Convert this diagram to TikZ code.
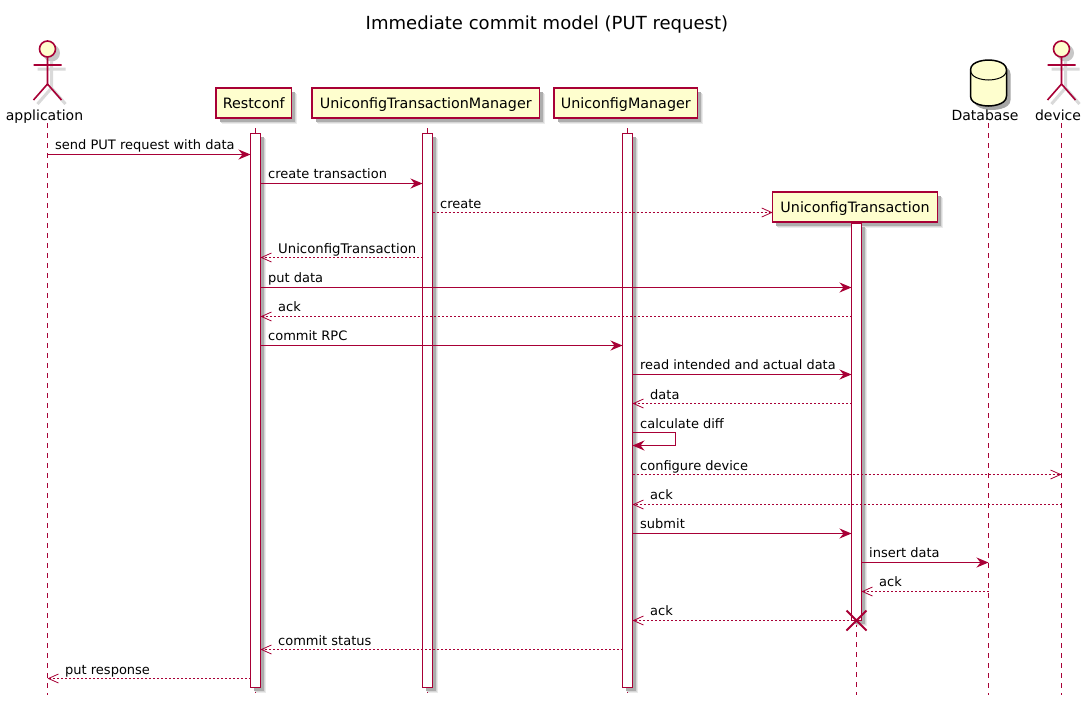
\documentclass[tikz,border=0pt]{standalone}
\usepackage{fontspec}
\setmainfont{DejaVu Sans}
\usetikzlibrary{arrows.meta,shadows,calc}
\definecolor{puline}{HTML}{A80036}
\definecolor{pufill}{HTML}{FEFECE}
\tikzset{
  softshadow/.style={general shadow={fill=black!8,shadow xshift=5.5pt,shadow yshift=-5.5pt},
    general shadow={fill=black!16,shadow xshift=4.5pt,shadow yshift=-4.5pt},
    general shadow={fill=black!32,shadow xshift=3.5pt,shadow yshift=-3.5pt}},
  partbox/.style={draw=puline,fill=pufill,line width=1.5pt,rectangle,inner sep=0pt,outer sep=0pt,softshadow,
    font=\fontsize{14.3}{16}\selectfont,text=black,anchor=north west,text height=13.5pt,text depth=2pt},
  actbar/.style={draw=puline,fill=white,line width=1pt,rectangle,inner sep=0pt,outer sep=0pt,minimum width=10pt,softshadow,anchor=north west},
  lifeline/.style={draw=puline,line width=1pt,dash pattern=on 5pt off 5pt},
  syncmsg/.style={draw=puline,line width=1pt,-{Stealth[length=12pt,width=10pt,inset=4pt,fill=puline]}},
  replymsg/.style={draw=puline,line width=1pt,dash pattern=on 2pt off 2pt,-{Straight Barb[length=10pt,width=9pt,line width=0.8pt]}},
  msglabel/.style={font=\fontsize{13}{15}\selectfont,text=black,anchor=base west,inner sep=0pt},
  actorlabel/.style={font=\fontsize{14}{16}\selectfont,text=black,anchor=base,inner sep=0pt},
  actorstroke/.style={draw=puline,line width=1.6pt,fill=none},
  actorshade/.style={draw=black!15,line width=3pt,fill=none}
}
\newcommand{\stickman}[2]{%
  \begin{scope}[shift={(#1+4,#2+4)}]
    \fill[black!22] (0,49) circle (8.5);
    \draw[actorshade] (0,57)--(0,84) (-14,65)--(14,65) (-14,100)--(0,84)--(14,100);
  \end{scope}
  \begin{scope}[shift={(#1,#2)}]
    \draw[actorstroke,fill=pufill] (0,49) circle (8);
    \draw[actorstroke] (0,57)--(0,84) (-14,65)--(14,65) (-14,100)--(0,84)--(14,100);
  \end{scope}}
\begin{document}
\begin{tikzpicture}[x=1pt,y=-1pt]
\useasboundingbox[fill=white] (0,0) rectangle (1088,702);
% title
\node[font=\fontsize{18.05}{20}\selectfont,anchor=base,inner sep=0pt] (title) at (547,29) {Immediate commit model (PUT request)};
% lifeline anchors
\coordinate (appT) at (47.5,123);   \coordinate (appB) at (47.5,695);
\coordinate (resT) at (255.5,118);  \coordinate (resB) at (255.5,695);
\coordinate (tmT)  at (427.5,118);  \coordinate (tmB)  at (427.5,695);
\coordinate (umT)  at (627.5,118);  \coordinate (umB)  at (627.5,695);
\coordinate (utT)  at (856.5,222);  \coordinate (utB)  at (856.5,695);
\coordinate (dbT)  at (988.5,123);  \coordinate (dbB)  at (988.5,695);
\coordinate (devT) at (1061.5,123); \coordinate (devB) at (1061.5,695);
\foreach \p in {app,res,tm,um,ut,db,dev}{\draw[lifeline] (\p T) -- (\p B);}
% participants
\stickman{47.5}{0}
\node[actorlabel] (application) at (44.5,120) {application};
\node[partbox,minimum width=75.5pt,minimum height=30pt] (restconf) at (216,88) {Restconf};
\node[partbox,minimum width=227.5pt,minimum height=30pt] (manager) at (312,88) {UniconfigTransactionManager};
\node[partbox,minimum width=143.5pt,minimum height=30pt] (uniconfig) at (554,88) {UniconfigManager};
% database
\fill[black!35] (974,74) .. controls (974,64) and (992,64) .. (992,64) .. controls (992,64) and (1010.5,64) .. (1010.5,74) -- (1010.5,100) .. controls (1010.5,110) and (992,110) .. (992,110) .. controls (992,110) and (974,110) .. (974,100) -- cycle;
\draw[black,line width=1.5pt,fill=pufill] (970.5,70) .. controls (970.5,60) and (988.5,60) .. (988.5,60) .. controls (988.5,60) and (1006.5,60) .. (1006.5,70) -- (1006.5,96) .. controls (1006.5,106) and (988.5,106) .. (988.5,106) .. controls (988.5,106) and (970.5,106) .. (970.5,96) -- cycle;
\draw[black,line width=1pt] (970.5,70) .. controls (970.5,80) and (988.5,80) .. (988.5,80) .. controls (988.5,80) and (1006.5,80) .. (1006.5,70);
\node[actorlabel] (database) at (985,120) {Database};
\stickman{1061.5}{0}
\node[actorlabel] (device) at (1058,120) {device};
% activation bars
\node[actbar,minimum height=554pt] (barR) at (250.5,133.5) {};
\node[actbar,minimum height=554pt] (barM) at (422.5,133.5) {};
\node[actbar,minimum height=554pt] (barU) at (622.5,133.5) {};
\node[partbox,minimum width=164.6pt,minimum height=30pt] (utx) at (772.7,192) {UniconfigTransaction};
\node[actbar,minimum height=397pt] (barT) at (851.5,223.5) {};
% messages
\draw[syncmsg] (appT |- 0,154.5) -- (barR.west |- 0,154.5);
\node[msglabel] (m1) at (55,149) {send PUT request with data};
\draw[syncmsg] (barR.east |- 0,183.5) -- (barM.west |- 0,183.5);
\node[msglabel] (m2) at (268,178) {create transaction};
\draw[replymsg] (barM.east |- 0,212.5) -- (utx.west |- 0,212.5);
\node[msglabel] (m3) at (440,208) {create};
\draw[replymsg] (barM.west |- 0,257.5) -- (barR.east |- 0,257.5);
\node[msglabel,font=\fontsize{13.25}{15}\selectfont] (m4) at (278,253) {UniconfigTransaction};
\draw[syncmsg] (barR.east |- 0,287.5) -- (barT.west |- 0,287.5);
\node[msglabel] (m5) at (268,282) {put data};
\draw[replymsg] (barT.west |- 0,316.5) -- (barR.east |- 0,316.5);
\node[msglabel] (m6) at (278,311) {ack};
\draw[syncmsg] (barR.east |- 0,345.5) -- (barU.west |- 0,345.5);
\node[msglabel] (m7) at (268,340) {commit RPC};
\draw[syncmsg] (barU.east |- 0,374.5) -- (barT.west |- 0,374.5);
\node[msglabel,font=\fontsize{12.88}{15}\selectfont] (m8) at (640,369) {read intended and actual data};
\draw[replymsg] (barT.west |- 0,403.5) -- (barU.east |- 0,403.5);
\node[msglabel] (m9) at (650,399) {data};
\coordinate (selfA) at (675,432.5);
\draw[syncmsg] (barU.east |- selfA) -- (selfA) -- (675,445.5) -- (barU.east |- 0,445.5);
\node[msglabel] (m10) at (640,428) {calculate diff};
\draw[replymsg] (barU.east |- 0,474.5) -- (devT |- 0,474.5);
\node[msglabel] (m11) at (640,470) {configure device};
\draw[replymsg] (devT |- 0,504.5) -- (barU.east |- 0,504.5);
\node[msglabel] (m12) at (650,499) {ack};
\draw[syncmsg] (barU.east |- 0,533.5) -- (barT.west |- 0,533.5);
\node[msglabel] (m13) at (640,528) {submit};
\draw[syncmsg] (barT.east |- 0,562.5) -- (dbT |- 0,562.5);
\node[msglabel] (m14) at (869,557) {insert data};
\draw[replymsg] (dbT |- 0,591.5) -- (barT.east |- 0,591.5);
\node[msglabel] (m15) at (879,586) {ack};
\draw[replymsg] (utT |- 0,620.5) -- (barU.east |- 0,620.5);
\node[msglabel] (m16) at (650,615) {ack};
\draw[puline,line width=2pt] ($(utT |- 0,620.5)+(-10,-10)$) -- ($(utT |- 0,620.5)+(10,10)$) ($(utT |- 0,620.5)+(-10,10)$) -- ($(utT |- 0,620.5)+(10,-10)$);
\draw[replymsg] (barU.west |- 0,649.5) -- (barR.east |- 0,649.5);
\node[msglabel] (m17) at (278,645) {commit status};
\draw[replymsg] (barR.west |- 0,678.5) -- (appT |- 0,678.5);
\node[msglabel] (m18) at (65,674) {put response};
\end{tikzpicture}
\end{document}
